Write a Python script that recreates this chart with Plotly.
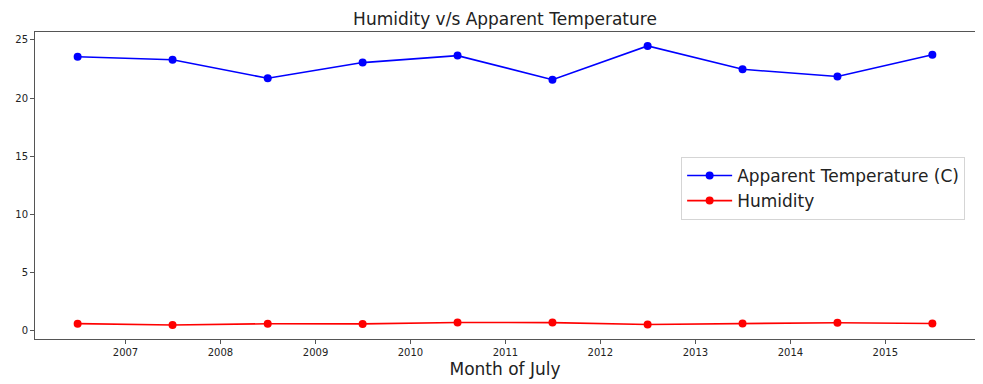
import plotly.graph_objects as go

dates = ["2006-07-01", "2007-07-01", "2008-07-01", "2009-07-01", "2010-07-01",
         "2011-07-01", "2012-07-01", "2013-07-01", "2014-07-01", "2015-07-01"]
apparent_temp = [23.55, 23.30, 21.70, 23.05, 23.65, 21.58, 24.48, 22.47, 21.85, 23.72]
humidity = [0.60, 0.49, 0.59, 0.58, 0.70, 0.69, 0.53, 0.62, 0.68, 0.61]
tick_dates = ["2007-01-01", "2008-01-01", "2009-01-01", "2010-01-01", "2011-01-01",
              "2012-01-01", "2013-01-01", "2014-01-01", "2015-01-01"]
tick_labels = ["2007", "2008", "2009", "2010", "2011", "2012", "2013", "2014", "2015"]

FONT = "DejaVu Sans"

fig = go.Figure()
fig.add_trace(go.Scatter(x=dates, y=apparent_temp, mode="lines+markers",
                         name="Apparent Temperature (C)",
                         line=dict(color="blue", width=1.6),
                         marker=dict(color="blue", size=8)))
fig.add_trace(go.Scatter(x=dates, y=humidity, mode="lines+markers",
                         name="Humidity",
                         line=dict(color="red", width=1.6),
                         marker=dict(color="red", size=8)))

axis_common = dict(showline=True, mirror=True, linecolor="#555", linewidth=1,
                   ticks="outside", ticklen=4, tickcolor="#555", showgrid=False,
                   zeroline=False, tickfont=dict(family=FONT, size=10, color="#222"))

fig.update_layout(
    width=975, height=376,
    margin=dict(l=26, r=7, t=24, b=45),
    paper_bgcolor="white", plot_bgcolor="white",
    font=dict(family=FONT, color="#222"),
    title=dict(text="Humidity v/s Apparent Temperature", x=0.5, xanchor="center",
               xref="paper", y=0.97, yanchor="middle",
               font=dict(family=FONT, size=17, color="#222")),
    legend=dict(x=0.9895, xanchor="right", y=0.593, yanchor="top",
                bordercolor="#d5d5d5", borderwidth=1, bgcolor="rgba(255,255,255,0.8)",
                font=dict(family=FONT, size=17, color="#222"),
                tracegroupgap=0, itemwidth=45),
    xaxis=dict(type="date", range=["2006-01-18", "2015-12-12"],
               tickvals=tick_dates, ticktext=tick_labels,
               title=dict(text="Month of July", font=dict(family=FONT, size=17, color="#222"),
                          standoff=6),
               **axis_common),
    yaxis=dict(range=[-0.72, 25.68], tickvals=[0, 5, 10, 15, 20, 25], **axis_common),
)

fig.write_html("out.html")
